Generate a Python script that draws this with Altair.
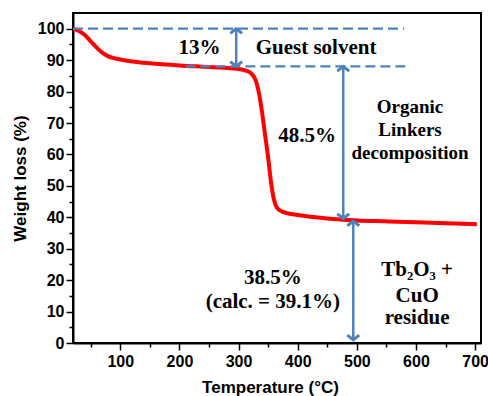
import altair as alt
import pandas as pd

# TGA curve
temp = [20, 30, 40, 50, 60, 70, 80, 90, 100, 120, 150, 200, 250, 300, 310, 320, 325,
        330, 335, 340, 345, 350, 355, 360, 365, 370, 380, 400, 450, 500, 550, 600, 650, 703]
weight = [100, 99.3, 98, 96, 94, 92.3, 91.2, 90.6, 90.2, 89.6, 89.0, 88.3, 87.8, 87.2, 86.8,
          86.0, 85.0, 83.0, 79, 73, 66, 59, 51, 45.5, 43, 42.2, 41.4, 40.7, 39.6, 39.0, 38.7,
          38.4, 38.1, 37.8]

# dashed reference lines
dash_y = [100, 88]
dash_x1 = [20, 210]
dash_x2 = [580, 585]

# double arrows
arrow_x = [296, 477, 494]
arrow_top = [100, 88, 38.8]
arrow_bottom = [88, 39.6, 1]

# annotations (large)
ann_text = ["13%", "Guest solvent", "48.5%",
            "38.5%", "(calc. = 39.1%)", "Tb\u2082O\u2083 +", "CuO", "residue"]
ann_x = [234, 431, 416, 358, 358, 602, 602, 602]
ann_y = [93.9, 93.9, 65.9, 20.7, 13.0, 23.2, 15.0, 8.0]

# annotations (small)
ann2_text = ["Organic", "Linkers", "decomposition"]
ann2_x = [590, 590, 590]
ann2_y = [75.1, 67.8, 60.5]

x_major = list(range(100, 701, 100))
x_minor = list(range(50, 701, 100))
y_major = list(range(0, 101, 10))
y_minor = list(range(5, 101, 10))

BLUE = "#4f81bd"

curve_df = pd.DataFrame({"t": temp, "w": weight})
dash_df = pd.DataFrame({"y": dash_y, "x1": dash_x1, "x2": dash_x2})
arr_df = pd.DataFrame({"x": arrow_x, "y1": arrow_top, "y2": arrow_bottom})
heads_df = pd.DataFrame({
    "x": arrow_x + arrow_x,
    "y": arrow_top + arrow_bottom,
    "ang": [0] * len(arrow_x) + [180] * len(arrow_x),
})
ann_df = pd.DataFrame({"text": ann_text, "x": ann_x, "y": ann_y})
ann2_df = pd.DataFrame({"text": ann2_text, "x": ann2_x, "y": ann2_y})

xscale = alt.Scale(domain=[20, 710], nice=False, zero=False)
yscale = alt.Scale(domain=[0, 105], nice=False)

xaxis = alt.Axis(
    values=x_major, orient="bottom", tickSize=7,
    title="Temperature (\u00b0C)", labelPadding=3, titlePadding=10, titleX=197,
    labelFlush=False,
)
yaxis = alt.Axis(
    values=y_major, orient="left", tickSize=7,
    title="Weight loss (%)", labelPadding=2, titlePadding=8,
    labelFlush=False,
)
xaxis_minor = alt.Axis(values=x_minor, orient="bottom", tickSize=4, labels=False,
                       domain=False, title=None)
yaxis_minor = alt.Axis(values=y_minor, orient="left", tickSize=4, labels=False,
                       domain=False, title=None)

curve = alt.Chart(curve_df).mark_line(
    color="#ff0000", strokeWidth=4, interpolate="monotone", clip=True
).encode(
    x=alt.X("t:Q", scale=xscale, axis=xaxis),
    y=alt.Y("w:Q", scale=yscale, axis=yaxis),
)

minor = alt.Chart(curve_df).mark_line(opacity=0).encode(
    x=alt.X("t:Q", scale=xscale, axis=xaxis_minor),
    y=alt.Y("w:Q", scale=yscale, axis=yaxis_minor),
)

dashes = alt.Chart(dash_df).mark_rule(
    color=BLUE, strokeWidth=2.2, strokeDash=[10, 5]
).encode(
    x=alt.X("x1:Q", scale=xscale, axis=None),
    x2="x2:Q",
    y=alt.Y("y:Q", scale=yscale, axis=None),
)

shafts = alt.Chart(arr_df).mark_rule(color=BLUE, strokeWidth=2.5).encode(
    x=alt.X("x:Q", scale=xscale, axis=None),
    y=alt.Y("y1:Q", scale=yscale, axis=None),
    y2="y2:Q",
)

heads = alt.Chart(heads_df).mark_point(
    shape="M-1,0.8L0,0L1,0.8", filled=False, color=BLUE, strokeWidth=3,
    size=140, opacity=1,
).encode(
    x=alt.X("x:Q", scale=xscale, axis=None),
    y=alt.Y("y:Q", scale=yscale, axis=None),
    angle=alt.Angle("ang:Q", scale=None),
)

texts = alt.Chart(ann_df).mark_text(
    font="Liberation Serif", fontWeight="bold", fontSize=21, color="black",
    align="center", baseline="middle",
).encode(
    x=alt.X("x:Q", scale=xscale, axis=None),
    y=alt.Y("y:Q", scale=yscale, axis=None),
    text="text:N",
)

texts2 = alt.Chart(ann2_df).mark_text(
    font="Liberation Serif", fontWeight="bold", fontSize=19, color="black",
    align="center", baseline="middle",
).encode(
    x=alt.X("x:Q", scale=xscale, axis=None),
    y=alt.Y("y:Q", scale=yscale, axis=None),
    text="text:N",
)

chart = alt.layer(curve, minor, dashes, shafts, heads, texts, texts2).resolve_axis(
    x="independent", y="independent"
).properties(
    width=408, height=330,
    autosize=alt.AutoSizeParams(type="none"),
    padding={"left": 73, "top": 13, "right": 7, "bottom": 53},
).configure_view(
    stroke="black", strokeWidth=2
).configure_axis(
    grid=False,
    domainColor="black", domainWidth=2,
    tickColor="black", tickWidth=1.5,
    labelFont="Liberation Sans", labelFontWeight="bold", labelFontSize=16, labelColor="black",
    titleFont="Liberation Sans", titleFontWeight="bold", titleFontSize=17, titleColor="black",
)

chart.save("out.html", embed_options={"renderer": "svg", "actions": False})
